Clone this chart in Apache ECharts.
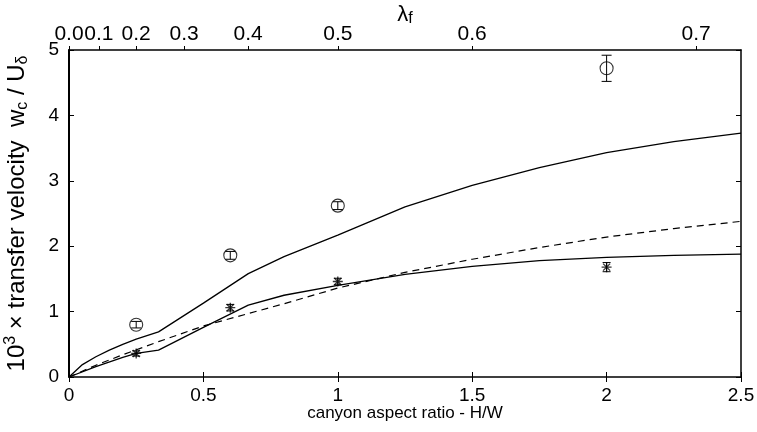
<!DOCTYPE html>
<html>
<head>
<meta charset="utf-8">
<script src="https://cdn.jsdelivr.net/npm/echarts@6/dist/echarts.min.js"></script>
<style>
html,body{margin:0;padding:0;background:#fff;}
#chart{width:757px;height:432px;}
</style>
</head>
<body>
<div id="chart"></div>
<script>
// model curves (H/W vs 10^3 w_c/U)
var upperX = [0, 0.05, 0.1, 0.15, 0.2, 0.25, 0.333, 0.5, 0.667, 0.8, 1.0, 1.25, 1.5, 1.75, 2.0, 2.25, 2.5];
var upperY = [0, 0.19, 0.31, 0.41, 0.5, 0.58, 0.69, 1.13, 1.58, 1.84, 2.17, 2.6, 2.93, 3.2, 3.43, 3.6, 3.73];
var lowerX = [0, 0.1, 0.2, 0.25, 0.333, 0.5, 0.667, 0.8, 1.0, 1.25, 1.5, 1.75, 2.0, 2.25, 2.5];
var lowerY = [0, 0.16, 0.3, 0.36, 0.41, 0.76, 1.1, 1.25, 1.4, 1.57, 1.69, 1.78, 1.83, 1.86, 1.88];
var dashX = [0, 0.1, 0.2, 0.333, 0.5, 0.667, 0.8, 1.0, 1.25, 1.5, 1.75, 2.0, 2.25, 2.5];
var dashY = [0, 0.18, 0.34, 0.54, 0.78, 0.97, 1.12, 1.36, 1.6, 1.8, 1.98, 2.14, 2.27, 2.38];
// measurements
var circX = [0.25, 0.6, 1.0, 2.0];
var circY = [0.8, 1.86, 2.62, 4.72];
var circErr = [0.05, 0.06, 0.06, 0.2];
var starX = [0.25, 0.6, 1.0, 2.0];
var starY = [0.36, 1.06, 1.46, 1.68];
var starErr = [0.04, 0.05, 0.05, 0.07];
// top axis ticks (lambda_f)
var lamTicks = [0.0, 0.1, 0.2, 0.3, 0.4, 0.5, 0.6, 0.7];
var hwTicks = [0, 0.5, 1, 1.5, 2, 2.5];

var FONT = 'Liberation Sans, Arial, sans-serif';

function pairs(xs, ys){
	var out = [];
	for(var i=0;i<xs.length;i++){
		out.push([xs[i], ys[i]]);
	}
	return out;
}
function errData(xs, ys, es){
	var out = [];
	for(var i=0;i<xs.length;i++){
		out.push([xs[i], ys[i]-es[i], ys[i]+es[i]]);
	}
	return out;
}
function errSeries(data, cap){
	return {
		type:'custom',
		data:data,
		encode:{x:0, y:[1,2]},
		z:5,
		renderItem:function(params, api){
			var lo = api.coord([api.value(0), api.value(1)]);
			var hi = api.coord([api.value(0), api.value(2)]);
			var st = {stroke:'#000', lineWidth:1};
			return {
				type:'group',
				children:[
					{type:'line', shape:{x1:lo[0], y1:lo[1], x2:hi[0], y2:hi[1]}, style:st},
					{type:'line', shape:{x1:lo[0]-cap, y1:lo[1], x2:lo[0]+cap, y2:lo[1]}, style:st},
					{type:'line', shape:{x1:hi[0]-cap, y1:hi[1], x2:hi[0]+cap, y2:hi[1]}, style:st}
				]
			};
		}
	};
}

var lamPos = lamTicks.map(function(l){ return l/(1-l); });

var chart = echarts.init(document.getElementById('chart'));
var option = {
	animation:false,
	backgroundColor:'#fff',
	grid:{left:69, right:16, top:50, bottom:55, outerBoundsMode:'none', containLabel:false},
	xAxis:[
		{
			type:'value', min:0, max:2.5, interval:0.5, position:'bottom',
			axisLine:{onZero:false, lineStyle:{color:'#000', width:1.5}},
			axisTick:{inside:true, length:5, lineStyle:{color:'#000', width:1}},
			axisLabel:{color:'#000', fontSize:19, fontFamily:FONT, margin:9,
				formatter:function(v){ return hwTicks.indexOf(v)>=0 ? String(v) : ''; }},
			splitLine:{show:false},
			name:'canyon aspect ratio - H/W', nameLocation:'middle', nameGap:28, nameMoveOverlap:false,
			nameTextStyle:{color:'#000', fontSize:17, fontFamily:FONT}
		},
		{
			type:'value', min:0, max:2.5, position:'top',
			axisLine:{onZero:false, lineStyle:{color:'#000', width:1.5}},
			axisTick:{inside:false, length:4, customValues:lamPos, lineStyle:{color:'#000', width:1}},
			axisLabel:{color:'#000', fontSize:21, fontFamily:FONT, margin:5, customValues:lamPos, hideOverlap:false,
				formatter:function(v){ return (v/(1+v)).toFixed(1); }},
			splitLine:{show:false},
			name:'{l|λ}{s|f}', nameLocation:'middle', nameGap:23, nameMoveOverlap:false,
			nameTextStyle:{color:'#000', fontFamily:FONT,
				rich:{
					l:{fontSize:22, fontFamily:FONT, color:'#000', lineHeight:24},
					s:{fontSize:16, fontFamily:FONT, color:'#000', lineHeight:12, verticalAlign:'bottom'}
				}}
		},
		{
			type:'value', min:0, max:2.5, interval:0.5, position:'top',
			axisLine:{show:false},
			axisTick:{inside:true, length:5, lineStyle:{color:'#000', width:1}},
			axisLabel:{show:false},
			splitLine:{show:false}
		}
	],
	yAxis:[
		{
			type:'value', min:0, max:5, interval:1, position:'left',
			axisLine:{onZero:false, lineStyle:{color:'#000', width:2}},
			axisTick:{inside:true, length:5, lineStyle:{color:'#000', width:1}},
			axisLabel:{color:'#000', fontSize:19, fontFamily:FONT, margin:10},
			splitLine:{show:false},
			name:'{a|10}{p|3}{a| × transfer velocity  w}{b|c}{a| / U}{b|δ}',
			nameLocation:'middle', nameGap:38, nameMoveOverlap:false,
			nameTextStyle:{color:'#000', fontFamily:FONT,
				rich:{
					a:{fontSize:24, fontFamily:FONT, color:'#000', lineHeight:28},
					p:{fontSize:16, fontFamily:FONT, color:'#000', lineHeight:12, verticalAlign:'top'},
					b:{fontSize:16, fontFamily:FONT, color:'#000', lineHeight:12, verticalAlign:'bottom'}
				}}
		},
		{
			type:'value', min:0, max:5, interval:1, position:'right',
			axisLine:{onZero:false, lineStyle:{color:'#000', width:1.5}},
			axisTick:{inside:true, length:5, lineStyle:{color:'#000', width:1}},
			axisLabel:{show:false},
			splitLine:{show:false}
		}
	],
	series:[
		{type:'line', data:pairs(upperX, upperY), smooth:false, showSymbol:false,
			lineStyle:{color:'#000', width:1.3}},
		{type:'line', data:pairs(lowerX, lowerY), smooth:false, showSymbol:false,
			lineStyle:{color:'#000', width:1.3}},
		{type:'line', data:pairs(dashX, dashY), smooth:false, showSymbol:false,
			lineStyle:{color:'#000', width:1.2, type:[7,5]}},
		{type:'scatter', data:pairs(circX, circY), symbol:'circle', symbolSize:13, z:4,
			itemStyle:{color:'#fff', borderColor:'#000', borderWidth:1.1}},
		errSeries(errData(circX, circY, circErr), 5),
		{type:'scatter', data:pairs(starX, starY), z:6, symbolSize:10,
			symbol:'path://M0,-1L0,1M-1,0L1,0M-0.7,-0.7L0.7,0.7M-0.7,0.7L0.7,-0.7',
			itemStyle:{color:'none', borderColor:'#000', borderWidth:1.3}},
		errSeries(errData(starX, starY, starErr), 4)
	]
};
chart.setOption(option);
</script>
</body>
</html>
